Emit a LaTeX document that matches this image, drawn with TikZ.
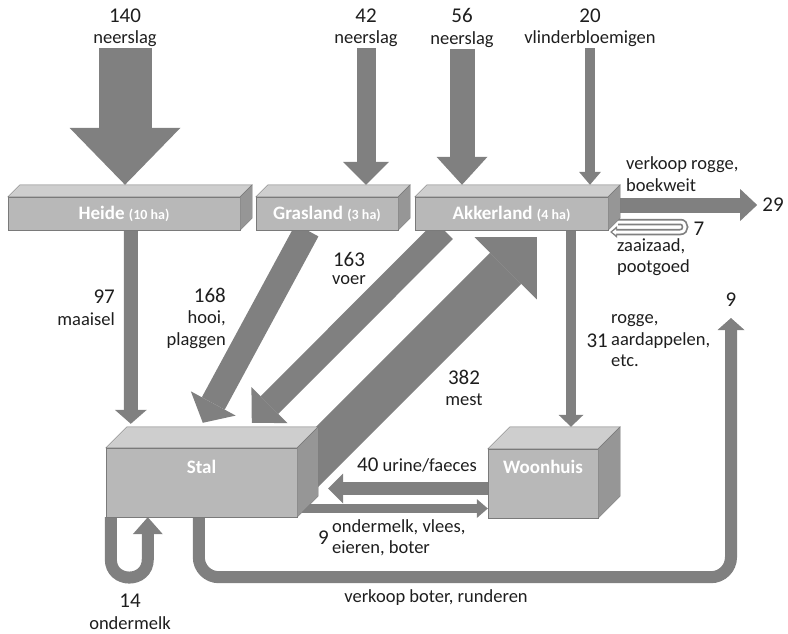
\documentclass[tikz,border=0pt]{standalone}
\usepackage{fontspec}
\setmainfont{Carlito}
\usetikzlibrary{arrows.meta,backgrounds,positioning}
\definecolor{flowgray}{RGB}{128,128,128}
\definecolor{frontgray}{RGB}{184,184,184}
\definecolor{topgray}{RGB}{206,206,206}
\definecolor{sidegray}{RGB}{150,150,150}
\definecolor{edgegray}{RGB}{122,122,122}
\definecolor{txtgray}{RGB}{30,30,30}
\newcommand{\val}[1]{{\fontsize{21}{21}\selectfont #1}}
\newcommand{\ha}[1]{{\fontsize{14}{16}\selectfont (#1 ha)}}

\begin{document}
\begin{tikzpicture}[x=1pt, y=-1pt,
  flow/.style n args={3}{draw=flowgray, line width=#1, -{Triangle[width=#2 0, length=#3 0, line width=0pt]}},
  slabtext/.style={text=white, font=\bfseries\fontsize{19}{21}\selectfont},
  slab/.style={draw=edgegray, fill=frontgray, inner sep=0pt, slabtext},
  lbl/.style={text=txtgray, font=\fontsize{18.5}{21.5}\selectfont, align=center, inner sep=1pt}]

  \useasboundingbox (0,0) rectangle (788,634);

  \node[slab, minimum width=232pt, minimum height=33pt] (heide) at (124,213.5) {Heide \ha{10}};
  \node[slab, minimum width=142pt, minimum height=33pt] (gras)  at (327,213.5) {Grasland \ha{3}};
  \node[slab, minimum width=193pt, minimum height=33pt] (akker) at (511.5,213.5) {Akkerland \ha{4}};
  \node[slab, minimum width=191pt, minimum height=69pt,
        label={[slabtext, anchor=center, yshift=-19pt]north:Stal}] (stal) at (201.5,482.5) {};
  \node[slab, minimum width=110pt, minimum height=69pt,
        label={[slabtext, anchor=center, yshift=-18pt]north:Woonhuis}] (woon) at (543,483.5) {};

  \foreach \n/\d in {heide/12,gras/12,akker/12,stal/21,woon/22}{
    \filldraw[draw=edgegray, fill=topgray] (\n.north west) -- ++(\d,-\d) -- ([shift={(\d,-\d)}]\n.north east) -- (\n.north east) -- cycle;
    \filldraw[draw=edgegray, fill=sidegray] (\n.north east) -- ++(\d,-\d) -- ([shift={(\d,-\d)}]\n.south east) -- (\n.south east) -- cycle;
  }

  \node[lbl] (rainH) at (125,28) {\val{140}\\neerslag};
  \node[lbl] (rainG) at (366,28) {\val{42}\\neerslag};
  \node[lbl] (rainA) at (462,28) {\val{56}\\neerslag};
  \node[lbl] (fixA)  at (590,28) {\val{20}\\vlinderbloemigen};
  \node[lbl, align=right, anchor=east] (mowL) at (116,308) {\val{97}\\maaisel};
  \node[lbl, align=right, anchor=east] (hayL) at (227,318) {\val{168}\\hooi,\\plaggen};
  \node[lbl, font=\fontsize{18.5}{18}\selectfont] (feedL) at (349,268) {\val{163}\\voer};
  \node[lbl] (manureL) at (464,388) {\val{382}\\mest};
  \node[lbl, align=left, anchor=west] (cropL) at (610,341) {rogge,\\aardappelen,\\etc.};
  \node[lbl, left=1pt of cropL] (cropN) {\val{31}};
  \node[lbl, align=left, anchor=west] (saleL) at (625,174) {verkoop rogge,\\boekweit};
  \node[lbl] (out29) at (773,205) {\val{29}};
  \node[lbl, align=left, anchor=west] (seedL) at (616,257) {zaaizaad,\\pootgoed};
  \node[lbl] (seedN) at (699,229) {\val{7}};
  \node[lbl] (out9) at (731,300) {\val{9}};
  \node[lbl] (urineL) at (417,465) {\val{40} urine/faeces};
  \node[lbl, align=left, anchor=west] (milkL) at (331,538) {ondermelk, vlees,\\eieren, boter};
  \node[lbl, left=1pt of milkL] (milkN) {\val{9}};
  \node[lbl] (skimL) at (130,612) {\val{14}\\ondermelk};
  \node[lbl] (sellL) at (436,598) {verkoop boter, runderen};

  \begin{scope}[on background layer]
    \draw[flow={53pt}{111pt}{57pt}] (rainH) -- ([shift={(1,-12)}]heide.north);
    \draw[flow={19pt}{46pt}{23pt}] (rainG) -- ([shift={(39,-12)}]gras.north);
    \draw[flow={25pt}{51pt}{28pt}] (rainA) -- ([shift={(-49.5,-12)}]akker.north);
    \draw[flow={10pt}{22pt}{13pt}] (fixA) -- ([shift={(78.5,-12)}]akker.north);
    \draw[flow={14pt}{32pt}{14pt}] ([xshift=7pt]heide.south) -- ([shift={(25,-24)}]stal.north west);
    \draw[flow={26pt}{51pt}{22pt}] ([xshift=-20pt]gras.south) -- ([shift={(97,-25)}]stal.north west);
    \draw[flow={25pt}{51pt}{25pt}] ([xshift=-67.5pt]akker.south) -- ([shift={(146,-25)}]stal.north west);
    \draw[flow={44pt}{88pt}{44pt}] ([shift={(-15,44)}]stal.north east) -- ([shift={(122,7)}]akker.south west);
    \draw[flow={10pt}{25pt}{12pt}] ([xshift=59.5pt]akker.south) -- ([shift={(28,-22)}]woon.north);
    \draw[flow={15pt}{32pt}{17pt}, shorten >=4pt] ([shift={(6,-8.5)}]akker.east) -- (out29);
    \draw[draw=flowgray, line width=6.5pt, -{Triangle[width=12pt 0, length=7pt 0, line width=0pt]}]
      ([shift={(10,8.5)}]akker.east) -- ++(62,0) .. controls +(6.5,0) and +(6.5,0) .. ++(0,10) -- ([shift={(2,18.5)}]akker.east);
    \draw[draw=white, line width=3pt, shorten >=2pt, -{Triangle[width=6pt 0, length=4pt 0, line width=0pt]}]
      ([shift={(10,8.5)}]akker.east) -- ++(62,0) .. controls +(6.5,0) and +(6.5,0) .. ++(0,10) -- ([shift={(2,18.5)}]akker.east);
    \draw[flow={13pt}{30pt}{15pt}] ([yshift=-5pt]woon.west) -- ([shift={(31,6)}]stal.east);
    \draw[flow={9pt}{19pt}{11pt}] ([shift={(5,26)}]stal.east) -- ([yshift=-25pt]woon.west);
    \draw[flow={12pt}{30pt}{17pt}] ([xshift=5pt]stal.south west) -- ++(0,42)
      .. controls +(0,24.5) and +(0,24.5) .. ++(37,0) -- ([xshift=42pt]stal.south west);
    \draw[flow={12pt}{27pt}{12pt}, rounded corners=20pt, shorten >=10pt] ([xshift=93pt]stal.south west) -- ++(0,60) -| (out9);
  \end{scope}
\end{tikzpicture}
\end{document}
